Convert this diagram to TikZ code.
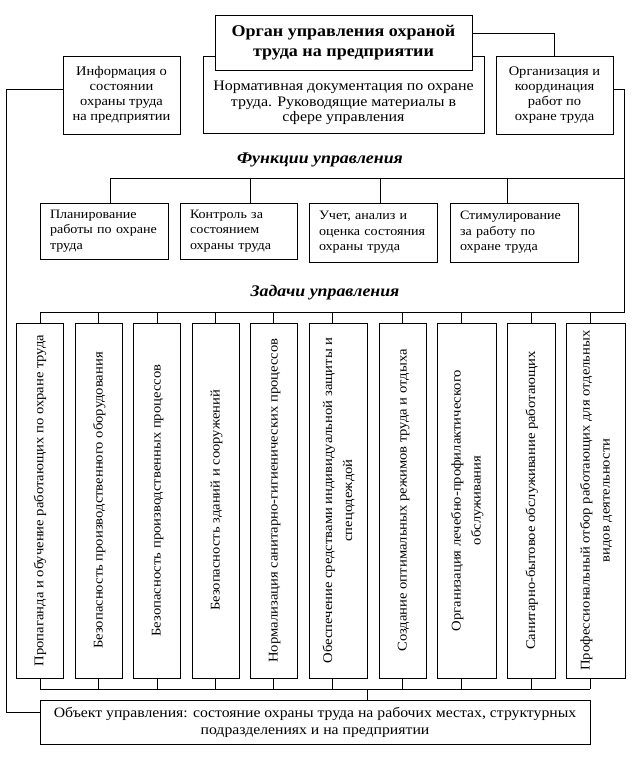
\documentclass[tikz,border=0pt]{standalone}
\usepackage{fontspec}
\setmainfont[FakeStretch=1.1]{Liberation Serif}
\newcommand\VertTxt[1]{\rotatebox{90}{\begin{tabular}{@{}c@{}}#1\end{tabular}}}
\begin{document}
\begin{tikzpicture}[x=1pt,y=-1pt,
  box/.style={draw, fill=white, line width=0.8pt, inner sep=0pt, font=\fontsize{13.2}{15}\selectfont, align=center},
  fbox/.style={draw, fill=white, line width=0.8pt, inner xsep=10pt, inner ysep=0pt, font=\fontsize{12.8}{15.5}\selectfont, align=left},
  tbox/.style={draw, fill=white, line width=0.8pt, inner sep=0pt, minimum height=355pt, font=\fontsize{13.3}{20}\selectfont},
  conn/.style={line width=0.8pt},
  head/.style={font=\fontsize{16.2}{19}\selectfont\bfseries\itshape, inner sep=0pt}]
\useasboundingbox (0,0) rectangle (638,782);

% top block
\node[box, minimum width=281pt, minimum height=77pt] (norm) at (343.5,94.5) {};
\node[inner sep=0pt, align=center, font=\fontsize{14.5}{15.5}\selectfont] (normtext) at (343.5,103) {Нормативная документация по охране\\труда. Руководящие материалы в\\сфере управления};
\node[box, minimum width=257pt, minimum height=55pt, font=\fontsize{16.4}{20}\selectfont\bfseries] (org) at (343.5,42.5) {Орган управления охраной\\труда на предприятии};
\node[box, minimum width=117pt, minimum height=78pt] (info) at (121.5,95) {Информация о\\состоянии\\охраны труда\\на предприятии};
\node[box, minimum width=117pt, minimum height=78pt] (coord) at (554.5,95) {Организация и\\координация\\работ по\\охране труда};

% headings
\node[head] (fhead) at (320,160) {Функции управления};
\node[head] (thead) at (325,293) {Задачи управления};

% function boxes
\node[fbox, text width=108pt, minimum height=56pt] (f1) at (104,231) {\mbox{Планирование}\\\mbox{работы по охране}\\\mbox{труда}};
\node[fbox, text width=97pt, minimum height=56pt] (f2) at (238.5,231) {\mbox{Контроль за}\\\mbox{состоянием}\\\mbox{охраны труда}};
\node[fbox, text width=108pt, minimum height=59pt] (f3) at (373,232.5) {\mbox{Учет, анализ и}\\\mbox{оценка состояния}\\\mbox{охраны труда}};
\node[fbox, text width=108pt, minimum height=59pt] (f4) at (514,232.5) {\mbox{Стимулирование}\\\mbox{за работу по}\\\mbox{охране труда}};

% task boxes
\node[tbox, minimum width=47pt] (t1) at (39.5,500.5) {\VertTxt{Пропаганда и обучение работающих по охране труда}};
\node[tbox, minimum width=47pt] (t2) at (98.5,500.5) {\VertTxt{Безопасность производственного оборудования}};
\node[tbox, minimum width=47pt] (t3) at (156.5,500.5) {\VertTxt{Безопасность производственных процессов}};
\node[tbox, minimum width=47pt] (t4) at (215.5,500.5) {\VertTxt{Безопасность зданий и сооружений}};
\node[tbox, minimum width=47pt] (t5) at (273.5,500.5) {\VertTxt{Нормализация санитарно-гигиенических процессов}};
\node[tbox, minimum width=58pt] (t6) at (338,500.5) {\VertTxt{Обеспечение средствами индивидуальной защиты и\\спецодеждой}};
\node[tbox, minimum width=47pt] (t7) at (402.5,500.5) {\VertTxt{Создание оптимальных режимов труда и отдыха}};
\node[tbox, minimum width=59pt] (t8) at (466.5,500.5) {\VertTxt{Организация лечебно-профилактического\\обслуживания}};
\node[tbox, minimum width=48pt] (t9) at (531,500.5) {\VertTxt{Санитарно-бытовое обслуживание работающих}};
\node[tbox, minimum width=59pt] (t10) at (595.5,500.5) {\VertTxt{Профессиональный отбор работающих для отдельных\\видов деятельности}};

% object box
\node[box, minimum width=550pt, minimum height=44pt, font=\fontsize{14.3}{17}\selectfont] (obj) at (315,722) {Объект управления: состояние охраны труда на рабочих местах, структурных\\подразделениях и на предприятии};

% coordinates
\coordinate (fbus) at (624,178);
\coordinate (tbus) at (624,312);
\coordinate (lb) at (6,712);
\coordinate (ob) at (367,689);
\foreach \n/\x in {1/110,2/250,3/380,4/507}{\coordinate (fb\n) at (\x,178);}
\foreach \n/\x in {1/40,2/98,3/157,4/215,5/273,6/332,7/402,8/461,9/531,10/590}{
  \coordinate (tb\n) at (\x,312);
  \coordinate (bb\n) at (\x,689);}

% connectors
\draw[conn] ([yshift=9.5pt]org.east) -| (coord.north);
\draw[conn] ([yshift=6pt]coord.east) -| (tbus) -- (tb1);
\draw[conn] (fbus) -- (fb1);
\draw[conn] ([yshift=6pt]info.west) -| (lb) -- ([yshift=10pt]obj.west);
\foreach \n in {1,2,3,4}{\draw[conn] (fb\n) -- (fb\n |- f\n.north);}
\foreach \n in {1,...,10}{
  \draw[conn] (tb\n) -- (tb\n |- t\n.north);
  \draw[conn] (bb\n) -- (bb\n |- t\n.south);}
\draw[conn] (bb1) -- (bb10);
\draw[conn] (ob) -- (ob |- obj.north);
\end{tikzpicture}
\end{document}
